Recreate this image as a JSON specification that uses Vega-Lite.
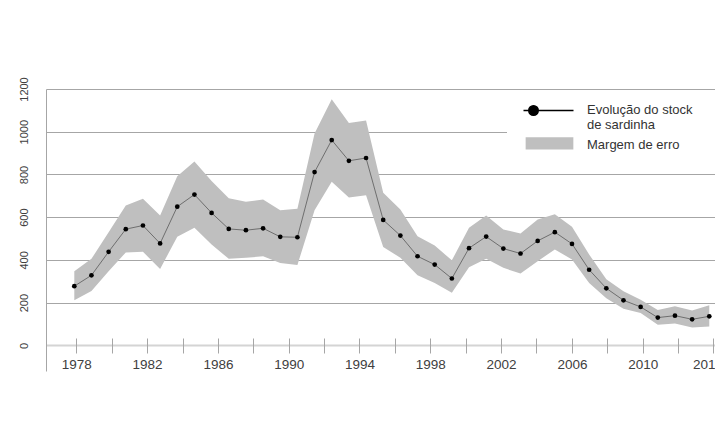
{
  "$schema": "https://vega.github.io/schema/vega-lite/v6.json",
  "width": 669,
  "height": 282,
  "autosize": "none",
  "padding": {"left": 46, "top": 89, "right": 0, "bottom": 74},
  "background": "white",
  "config": {
    "view": {"stroke": null},
    "axis": {"labelFont": "Liberation Sans", "labelColor": "#404040"},
    "legend": {
      "orient": "none",
      "symbolSize": 100,
      "labelFont": "Liberation Sans",
      "labelFontSize": 13,
      "labelColor": "#333333",
      "labelBaseline": "alphabetic",
      "labelLimit": 300
    }
  },
  "layer": [
    {
      "data": {
        "values": [
          {"year": 1978, "value": 277, "lower": 211, "upper": 347},
          {"year": 1979, "value": 328, "lower": 255, "upper": 405},
          {"year": 1980, "value": 438, "lower": 347, "upper": 530},
          {"year": 1981, "value": 544, "lower": 435, "upper": 655},
          {"year": 1982, "value": 561, "lower": 438, "upper": 686},
          {"year": 1983, "value": 477, "lower": 358, "upper": 608},
          {"year": 1984, "value": 649, "lower": 508, "upper": 792},
          {"year": 1985, "value": 706, "lower": 550, "upper": 861},
          {"year": 1986, "value": 620, "lower": 472, "upper": 769},
          {"year": 1987, "value": 545, "lower": 405, "upper": 689},
          {"year": 1988, "value": 539, "lower": 410, "upper": 672},
          {"year": 1989, "value": 548, "lower": 417, "upper": 683},
          {"year": 1990, "value": 508, "lower": 386, "upper": 633},
          {"year": 1991, "value": 506, "lower": 376, "upper": 639},
          {"year": 1992, "value": 811, "lower": 633, "upper": 992},
          {"year": 1993, "value": 961, "lower": 766, "upper": 1152},
          {"year": 1994, "value": 864, "lower": 692, "upper": 1041},
          {"year": 1995, "value": 877, "lower": 703, "upper": 1052},
          {"year": 1996, "value": 587, "lower": 461, "upper": 714},
          {"year": 1997, "value": 514, "lower": 410, "upper": 636},
          {"year": 1998, "value": 417, "lower": 328, "upper": 511},
          {"year": 1999, "value": 378, "lower": 292, "upper": 467},
          {"year": 2000, "value": 313, "lower": 246, "upper": 398},
          {"year": 2001, "value": 455, "lower": 366, "upper": 550},
          {"year": 2002, "value": 509, "lower": 405, "upper": 608},
          {"year": 2003, "value": 453, "lower": 363, "upper": 542},
          {"year": 2004, "value": 430, "lower": 336, "upper": 524},
          {"year": 2005, "value": 489, "lower": 394, "upper": 589},
          {"year": 2006, "value": 530, "lower": 449, "upper": 614},
          {"year": 2007, "value": 475, "lower": 402, "upper": 555},
          {"year": 2008, "value": 354, "lower": 292, "upper": 425},
          {"year": 2009, "value": 267, "lower": 220, "upper": 310},
          {"year": 2010, "value": 211, "lower": 171, "upper": 253},
          {"year": 2011, "value": 180, "lower": 152, "upper": 214},
          {"year": 2012, "value": 130, "lower": 97, "upper": 165},
          {"year": 2013, "value": 139, "lower": 102, "upper": 183},
          {"year": 2014, "value": 122, "lower": 84, "upper": 163},
          {"year": 2015, "value": 136, "lower": 88, "upper": 188}
        ]
      },
      "layer": [
        {
          "mark": {"type": "area", "opacity": 1},
          "encoding": {
            "x": {"field": "year", "type": "quantitative", "scale": {"domain": [1976.351, 2015.333], "nice": false, "zero": false}, "axis": null},
            "y": {
              "field": "lower", "type": "quantitative",
              "scale": {"domain": [-120, 1200], "nice": false, "zero": false},
              "axis": {
                "title": null,
                "values": [0, 200, 400, 600, 800, 1000, 1200],
                "format": "d",
                "labelAngle": 270,
                "labelAlign": "center",
                "labelBaseline": "alphabetic",
                "labelPadding": 19,
                "labelFontSize": 11,
                "ticks": false,
                "tickSize": 0,
                "domainColor": "#a6a6a6",
                "domainWidth": 1,
                "grid": true,
                "gridColor": {"condition": {"test": "datum.value === 0", "value": "#d4d4d4"}, "value": "#a6a6a6"},
                "gridWidth": {"condition": {"test": "datum.value === 0", "value": 2}, "value": 1},
                "labelFlush": false,
                "labelOverlap": false
              }
            },
            "y2": {"field": "upper"},
            "fill": {
              "datum": "Margem de erro",
              "type": "nominal",
              "scale": {"domain": ["Margem de erro"], "range": ["#bfbfbf"]},
              "legend": {
                "title": "x",
                "titleOpacity": 0,
                "titleOrient": "right",
                "titlePadding": 18,
                "fillColor": "white",
                "legendX": 461,
                "legendY": 41,
                "padding": 12,
                "symbolType": "M-4.77,-2.27H4.77V0.19H-4.77Z",
                "symbolOffset": 24,
                "labelOffset": 31,
                "symbolStrokeWidth": 0,
                "symbolStrokeColor": "transparent",
                "symbolFillColor": "#bfbfbf"
              }
            }
          }
        },
        {
          "mark": {"type": "line", "color": "#595959", "strokeWidth": 0.8},
          "encoding": {
            "x": {"field": "year", "type": "quantitative", "scale": {"domain": [1976.351, 2015.333], "nice": false, "zero": false}, "axis": null},
            "y": {"field": "value", "type": "quantitative"}
          }
        },
        {
          "mark": {"type": "point", "filled": true, "size": 22, "opacity": 1},
          "encoding": {
            "x": {"field": "year", "type": "quantitative", "scale": {"domain": [1976.351, 2015.333], "nice": false, "zero": false}, "axis": null},
            "y": {"field": "value", "type": "quantitative"},
            "color": {
              "datum": "Evolução do stock de sardinha",
              "type": "nominal",
              "scale": {"domain": ["Evolução do stock de sardinha"], "range": ["#000000"]},
              "legend": {
                "title": null,
                "fillColor": "transparent",
                "legendX": 461,
                "legendY": 6,
                "padding": 12,
                "symbolType": "M-5,-0.6H5M-2.05,-0.6A0.95,0.95,0,1,1,-3.95,-0.6A0.95,0.95,0,1,1,-2.05,-0.6Z",
                "symbolOffset": 23,
                "labelOffset": 32,
                "symbolStrokeWidth": 1.5,
                "symbolStrokeColor": "#000000",
                "symbolFillColor": "#000000",
                "labelExpr": "datum.label === 'Evolução do stock de sardinha' ? ['Evolução do stock', 'de sardinha'] : datum.label"
              }
            }
          }
        }
      ]
    },
    {
      "data": {
        "values": [
          {"tick": 1978}, {"tick": 1980}, {"tick": 1982}, {"tick": 1984}, {"tick": 1986},
          {"tick": 1988}, {"tick": 1990}, {"tick": 1992}, {"tick": 1994}, {"tick": 1996},
          {"tick": 1998}, {"tick": 2000}, {"tick": 2002}, {"tick": 2004}, {"tick": 2006},
          {"tick": 2008}, {"tick": 2010}, {"tick": 2012}, {"tick": 2014}
        ]
      },
      "mark": {"type": "point", "opacity": 0},
      "encoding": {
        "x": {
          "field": "tick", "type": "quantitative",
          "scale": {"domain": [1976.288, 2014.085], "nice": false, "zero": false},
          "axis": {
            "orient": "bottom",
            "offset": -33,
            "title": null,
            "values": [1978, 1980, 1982, 1984, 1986, 1988, 1990, 1992, 1994, 1996, 1998, 2000, 2002, 2004, 2006, 2008, 2010, 2012, 2014],
            "format": "d",
            "labelExpr": "datum.value % 4 === 2 ? datum.label : ''",
            "domain": false,
            "grid": false,
            "ticks": true,
            "tickSize": 15,
            "tickColor": "#a6a6a6",
            "tickWidth": 1,
            "labelFontSize": 13.5,
            "labelPadding": 4,
            "labelOffset": {"condition": {"test": "datum.value === 2014", "value": -6}, "value": 0},
            "labelFlush": false,
            "labelOverlap": false
          }
        }
      }
    }
  ],
  "resolve": {"scale": {"x": "independent"}, "axis": {"x": "independent"}}
}
